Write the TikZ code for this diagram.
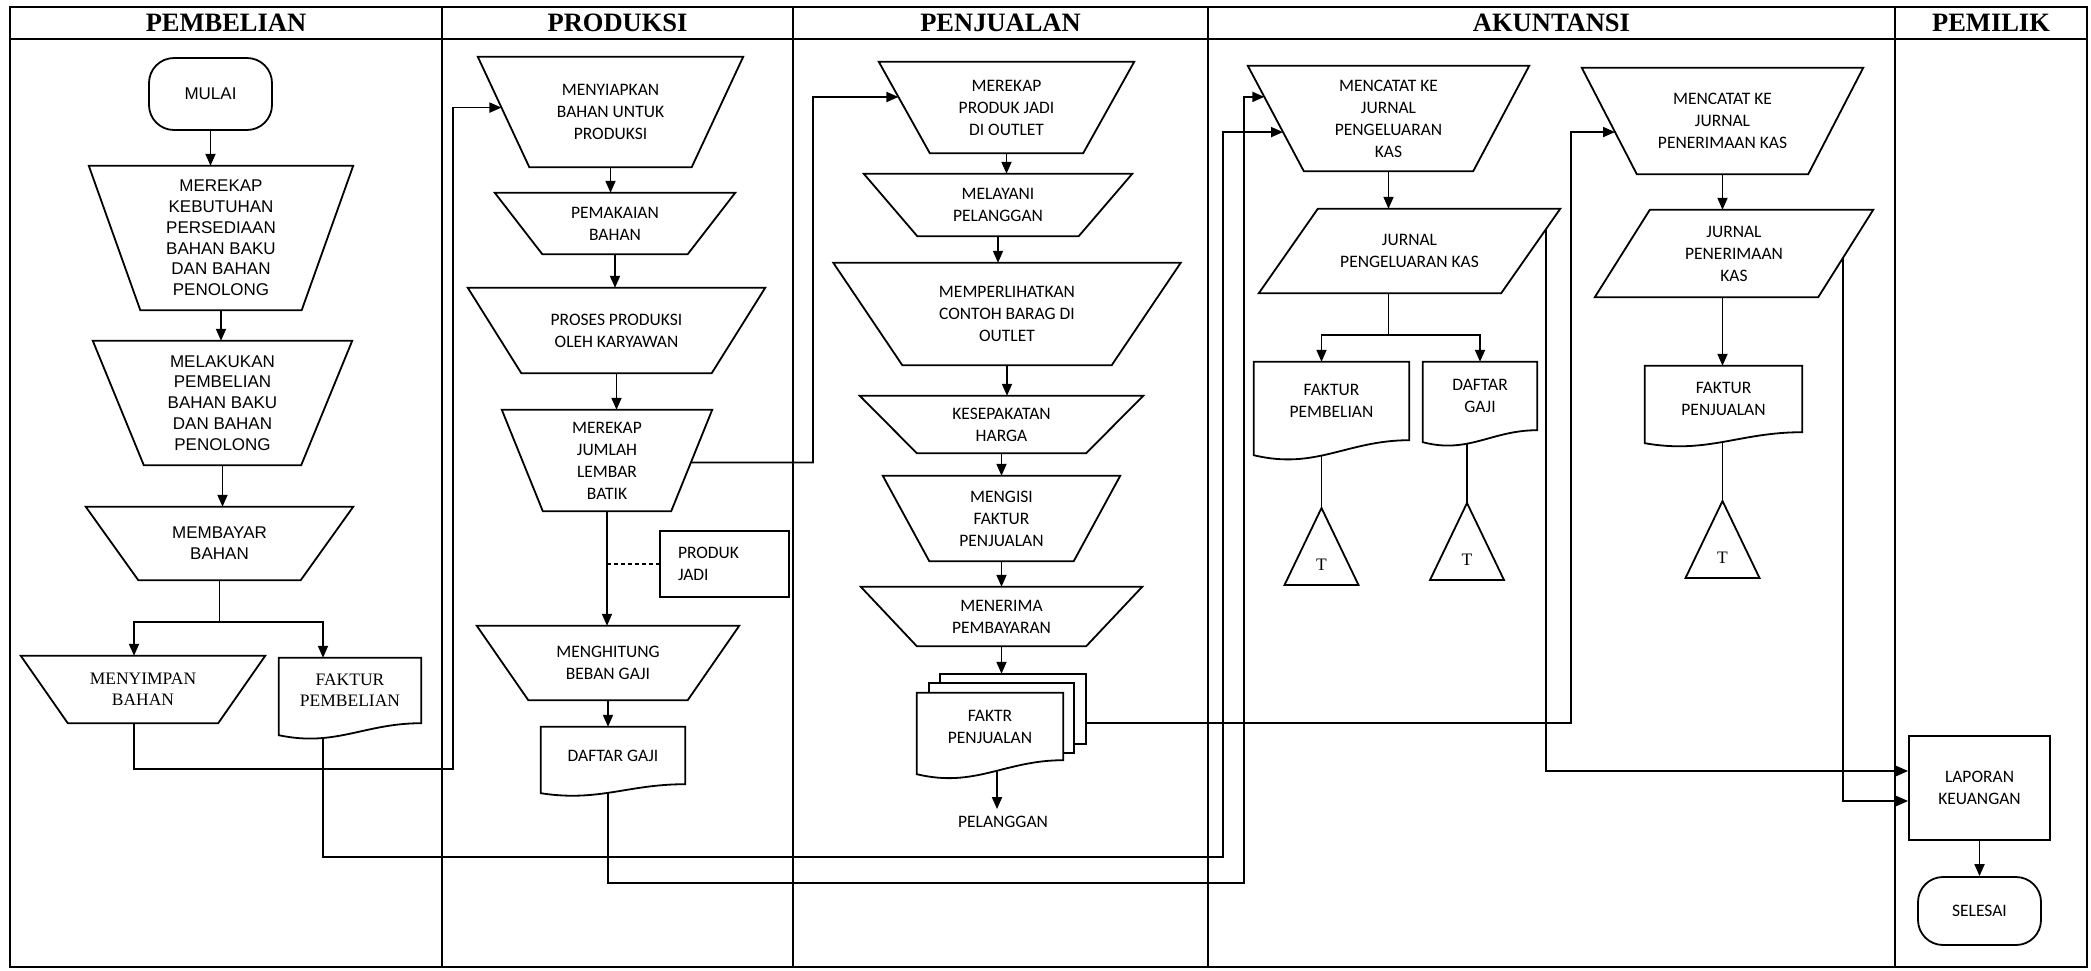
\documentclass[tikz,border=0pt]{standalone}
\usepackage{fontspec}
\setmainfont{Liberation Serif}
\newfontfamily\arialfont{Liberation Sans}
\newfontfamily\califont{Carlito}
\usetikzlibrary{arrows.meta,calc}
\tikzset{
  lane/.style={line width=1.8pt},
  lanehead/.style={font=\bfseries\fontsize{26.5}{30}\selectfont},
  boxtext/.style={inner sep=0pt, align=center, font=\califont\fontsize{17.5}{22}\selectfont},
  arialtext/.style={font=\arialfont\fontsize{17}{20.8}\selectfont},
  seriftext/.style={font=\fontsize{17.5}{21}\selectfont},
  outline/.style={line width=1.8pt},
  terminal/.style={boxtext, draw, line width=1.8pt, rounded corners=25pt},
  manop/.style={boxtext, append after command={\pgfextra{\draw[outline] (\tikzlastnode.north west) -- (\tikzlastnode.north east) -- ([xshift=-#1pt]\tikzlastnode.south east) -- ([xshift=#1pt]\tikzlastnode.south west) -- cycle;}}},
  dataio/.style={boxtext, append after command={\pgfextra{\draw[outline] ([xshift=#1pt]\tikzlastnode.north west) -- (\tikzlastnode.north east) -- ([xshift=-#1pt]\tikzlastnode.south east) -- (\tikzlastnode.south west) -- cycle;}}},
  docu/.style={boxtext, append after command={\pgfextra{\draw[outline] (\tikzlastnode.south east) -- (\tikzlastnode.north east) -- (\tikzlastnode.north west) -- ([yshift=-#1pt]\tikzlastnode.south west) .. controls ($(\tikzlastnode.south west)!0.4!(\tikzlastnode.south east)+(0,-#1*2pt)$) and ($(\tikzlastnode.south west)!0.6!(\tikzlastnode.south east)$) .. (\tikzlastnode.south east) -- cycle;}}},
  offline/.style={boxtext, append after command={\pgfextra{\draw[outline] ([yshift=57pt]\tikzlastnode.center) -- ([shift={(37pt,-20pt)}]\tikzlastnode.center) -- ([shift={(-37pt,-20pt)}]\tikzlastnode.center) -- cycle;}}},
  flow/.style={line width=1.8pt, -{Triangle[length=12pt,width=10pt]}},
  wire/.style={line width=1.8pt},
  dashlink/.style={line width=1.2pt, dash pattern=on 4pt off 3pt}
}
\begin{document}
\begin{tikzpicture}[x=1pt, y=-1pt]
  \useasboundingbox (0,0) rectangle (2091,970);
  % lanes
  \draw[lane] (10,7) rectangle (2087,967);
  \draw[lane] (10,39) -- (2087,39);
  \draw[lane] (442,7) -- (442,967);
  \draw[lane] (793,7) -- (793,967);
  \draw[lane] (1208,7) -- (1208,967);
  \draw[lane] (1895,7) -- (1895,967);
  \node[lanehead] (hbeli) at (226,23) {PEMBELIAN};
  \node[lanehead] (hprod) at (617.5,23) {PRODUKSI};
  \node[lanehead] (hjual) at (1000.5,23) {PENJUALAN};
  \node[lanehead] (hakun) at (1551.5,23) {AKUNTANSI};
  \node[lanehead] (hmilik) at (1991,23) {PEMILIK};

  % pembelian
  \node[terminal, arialtext, minimum width=123pt, minimum height=72pt] (mulai) at (210.5,94) {MULAI};
  \node[manop=51.5, arialtext, minimum width=264pt, minimum height=144pt] (rekap) at (221,238) {MEREKAP\\KEBUTUHAN\\PERSEDIAAN\\BAHAN BAKU\\DAN BAHAN\\PENOLONG};
  \node[manop=51, arialtext, minimum width=259pt, minimum height=124pt] (beli) at (222.5,403) {MELAKUKAN\\PEMBELIAN\\BAHAN BAKU\\DAN BAHAN\\PENOLONG};
  \node[manop=52.5, arialtext, minimum width=267pt, minimum height=73pt] (bayar) at (219.5,543.5) {MEMBAYAR\\BAHAN};
  \node[manop=47, seriftext, minimum width=244pt, minimum height=67pt] (simpan) at (143,689.5) {MENYIMPAN\\BAHAN};
  \node[docu=12, seriftext, minimum width=142pt, minimum height=65pt] (fakbeli) at (350,690.5) {FAKTUR\\PEMBELIAN};

  % produksi
  \node[manop=51.5, minimum width=265pt, minimum height=110pt] (siap) at (610.5,112) {MENYIAPKAN\\BAHAN UNTUK\\PRODUKSI};
  \node[manop=47.5, minimum width=240pt, minimum height=61pt] (pakai) at (615,223.5) {PEMAKAIAN\\BAHAN};
  \node[manop=53.5, minimum width=297pt, minimum height=85pt] (proses) at (616.5,330.5) {PROSES PRODUKSI\\OLEH KARYAWAN};
  \node[manop=41, minimum width=210pt, minimum height=101pt] (jumlah) at (607,460.5) {MEREKAP\\JUMLAH\\LEMBAR\\BATIK};
  \node[boxtext, draw, line width=1.8pt, align=left, text width=93pt, inner xsep=18pt, minimum height=66pt] (produk) at (724.5,564) {PRODUK\\JADI};
  \node[manop=51.5, minimum width=262pt, minimum height=74pt] (hitung) at (608,663) {MENGHITUNG\\BEBAN GAJI};
  \node[docu=9, minimum width=144pt, minimum height=57pt] (gaji) at (613,755.5) {DAFTAR GAJI};

  % penjualan
  \node[manop=51, minimum width=255pt, minimum height=91pt] (outlet) at (1006.5,107.5) {MEREKAP\\PRODUK JADI\\DI OUTLET};
  \node[manop=53.5, minimum width=268pt, minimum height=62pt] (layani) at (998,205) {MELAYANI\\PELANGGAN};
  \node[manop=69, minimum width=347pt, minimum height=102pt] (lihat) at (1007,314) {MEMPERLIHATKAN\\CONTOH BARAG DI\\OUTLET};
  \node[manop=57, minimum width=283pt, minimum height=57pt] (sepakat) at (1001.5,424.5) {KESEPAKATAN\\HARGA};
  \node[manop=46.5, minimum width=237pt, minimum height=85pt] (isi) at (1001.5,518.5) {MENGISI\\FAKTUR\\PENJUALAN};
  \node[manop=56, minimum width=281pt, minimum height=59pt] (terima) at (1001.5,616.5) {MENERIMA\\PEMBAYARAN};
  \node[docu=14, minimum width=146pt, minimum height=67pt] (fj) at (990,726.5) {FAKTR\\PENJUALAN};
  \draw[outline] ([xshift=12pt]fj.north west) -- ([shift={(12pt,10pt)}]fj.north west) -- ([shift={(11pt,10pt)}]fj.north east) -- ([shift={(11pt,7pt)}]fj.south east) -- ([yshift=7pt]fj.south east);
  \draw[outline] ([shift={(23pt,10pt)}]fj.north west) -- ([shift={(23pt,19pt)}]fj.north west) -- ([shift={(23pt,19pt)}]fj.north east) -- ([shift={(23pt,16pt)}]fj.south east) -- ([shift={(11pt,16pt)}]fj.south east);
  \node[boxtext, inner sep=7pt] (plg) at (1003,822) {PELANGGAN};

  % akuntansi
  \node[manop=56, minimum width=281pt, minimum height=105pt] (catatk) at (1388.5,118.5) {MENCATAT KE\\JURNAL\\PENGELUARAN\\KAS};
  \node[dataio=59, minimum width=301pt, minimum height=84pt] (jk) at (1409.5,251) {JURNAL\\PENGELUARAN KAS};
  \node[docu=15, minimum width=155pt, minimum height=78pt] (fb2) at (1331.5,401) {FAKTUR\\PEMBELIAN};
  \node[docu=12, minimum width=114pt, minimum height=68pt] (gaji2) at (1480,396) {DAFTAR\\GAJI};
  \node[offline, seriftext] (tri1) at (1321.5,565) {T};
  \node[offline, seriftext] (tri2) at (1467,560) {T};
  \node[manop=55, minimum width=281pt, minimum height=106pt] (catatm) at (1722.5,121) {MENCATAT KE\\JURNAL\\PENERIMAAN KAS};
  \node[dataio=55, minimum width=278pt, minimum height=87pt] (jm) at (1734,253.5) {JURNAL\\PENERIMAAN\\KAS};
  \node[docu=11, minimum width=157pt, minimum height=66pt] (fj2) at (1723.5,399) {FAKTUR\\PENJUALAN};
  \node[offline, seriftext] (tri3) at (1722.5,558) {T};

  % pemilik
  \node[boxtext, draw, line width=1.8pt, minimum width=141pt, minimum height=104pt] (lap) at (1979.5,788) {LAPORAN\\KEUANGAN};
  \node[terminal, minimum width=123pt, minimum height=68pt] (sel) at (1979.5,911) {SELESAI};

  % points on slanted sides and routing corners
  \coordinate (siap-in) at ($(siap.north west)!0.46!([xshift=51.5pt]siap.south west)$);
  \coordinate (outlet-in) at ($(outlet.north west)!0.385!([xshift=51pt]outlet.south west)$);
  \coordinate (catatk-in1) at ($(catatk.north west)!0.295!([xshift=56pt]catatk.south west)$);
  \coordinate (catatk-in2) at ($(catatk.north west)!0.629!([xshift=56pt]catatk.south west)$);
  \coordinate (catatm-in) at ($(catatm.north west)!0.604!([xshift=55pt]catatm.south west)$);
  \coordinate (jumlah-out) at ($(jumlah.north east)!0.52!([xshift=-41pt]jumlah.south east)$);
  \coordinate (jk-out) at ($(jk.north east)!0.24!([xshift=-59pt]jk.south east)$);
  \coordinate (jm-out) at ($(jm.north east)!0.545!([xshift=-55pt]jm.south east)$);
  \coordinate (fjx) at ($(fj.south)+(7pt,-10.5pt)$);
  \coordinate (c1) at (453,769);
  \coordinate (c2) at (1223,857);
  \coordinate (c3) at (813,97);
  \coordinate (c4) at (1244,883);
  \coordinate (c5) at (1571,132);

  % flow
  \draw[flow] (mulai) -- (mulai |- rekap.north);
  \draw[flow] (rekap) -- (rekap |- beli.north);
  \draw[flow] (beli) -- (beli |- bayar.north);
  \draw[wire] (bayar.south) -- ++(0,42) coordinate (b1);
  \draw[flow] (b1) -| ([xshift=-9pt]simpan.north);
  \draw[flow] (b1) -| ([xshift=-27pt]fakbeli.north);
  \draw[flow] ([xshift=-9pt]simpan.south) |- (c1) |- (siap-in);
  \draw[flow] ([shift={(-27pt,-14.5pt)}]fakbeli.south) |- (c2) |- (catatk-in2);

  \draw[flow] (siap) -- (siap |- pakai.north);
  \draw[flow] (pakai) -- (pakai |- proses.north);
  \draw[flow] (proses) -- (proses |- jumlah.north);
  \draw[flow] (jumlah) -- (jumlah |- hitung.north);
  \draw[dashlink] (jumlah |- produk.west) -- (produk);
  \draw[flow] (jumlah-out) -| (c3) -- (outlet-in);
  \draw[flow] (hitung) -- (hitung |- gaji.north);
  \draw[flow] ($(gaji.south -| hitung.south)+(0,-8.5pt)$) |- (c4) |- (catatk-in1);

  \draw[flow] (outlet) -- (outlet |- layani.north);
  \draw[flow] (layani) -- (layani |- lihat.north);
  \draw[flow] (lihat) -- (lihat |- sepakat.north);
  \draw[flow] (sepakat) -- (sepakat |- isi.north);
  \draw[flow] (isi) -- (isi |- terima.north);
  \draw[flow] (terima) -- ($(terima |- fj.north)+(0,19pt)$);
  \draw[flow] (fjx) -- (fjx |- plg.north);
  \draw[flow] ($(fj.east)+(23pt,3.5pt)$) -| (c5) -- (catatm-in);

  \draw[flow] (catatk) -- (catatk |- jk.north);
  \draw[wire] (jk.south -| catatk.south) -- ++(0,42) coordinate (b2);
  \draw[flow] (b2) -| ([xshift=-10pt]fb2.north);
  \draw[flow] (b2) -| (gaji2.north);
  \draw[wire] ($(fb2.south)+(-10pt,-15.5pt)$) -- ([yshift=57pt]tri1.center);
  \draw[wire] ($(gaji2.south)+(-13pt,-13pt)$) -- ([yshift=57pt]tri2.center);
  \draw[flow] (catatm) -- (catatm |- jm.north);
  \draw[flow] (jm.south -| catatm.south) -- (fj2.north -| catatm.south);
  \draw[wire] ($(fj2.south -| catatm.south)+(0,-10pt)$) -- ([yshift=57pt]tri3.center);
  \draw[flow] (jk-out) |- ($(lap.west)+(0,17pt)$);
  \draw[flow] (jm-out) |- ($(lap.west)+(0,-13pt)$);
  \draw[flow] (lap) -- (lap |- sel.north);
\end{tikzpicture}
\end{document}
